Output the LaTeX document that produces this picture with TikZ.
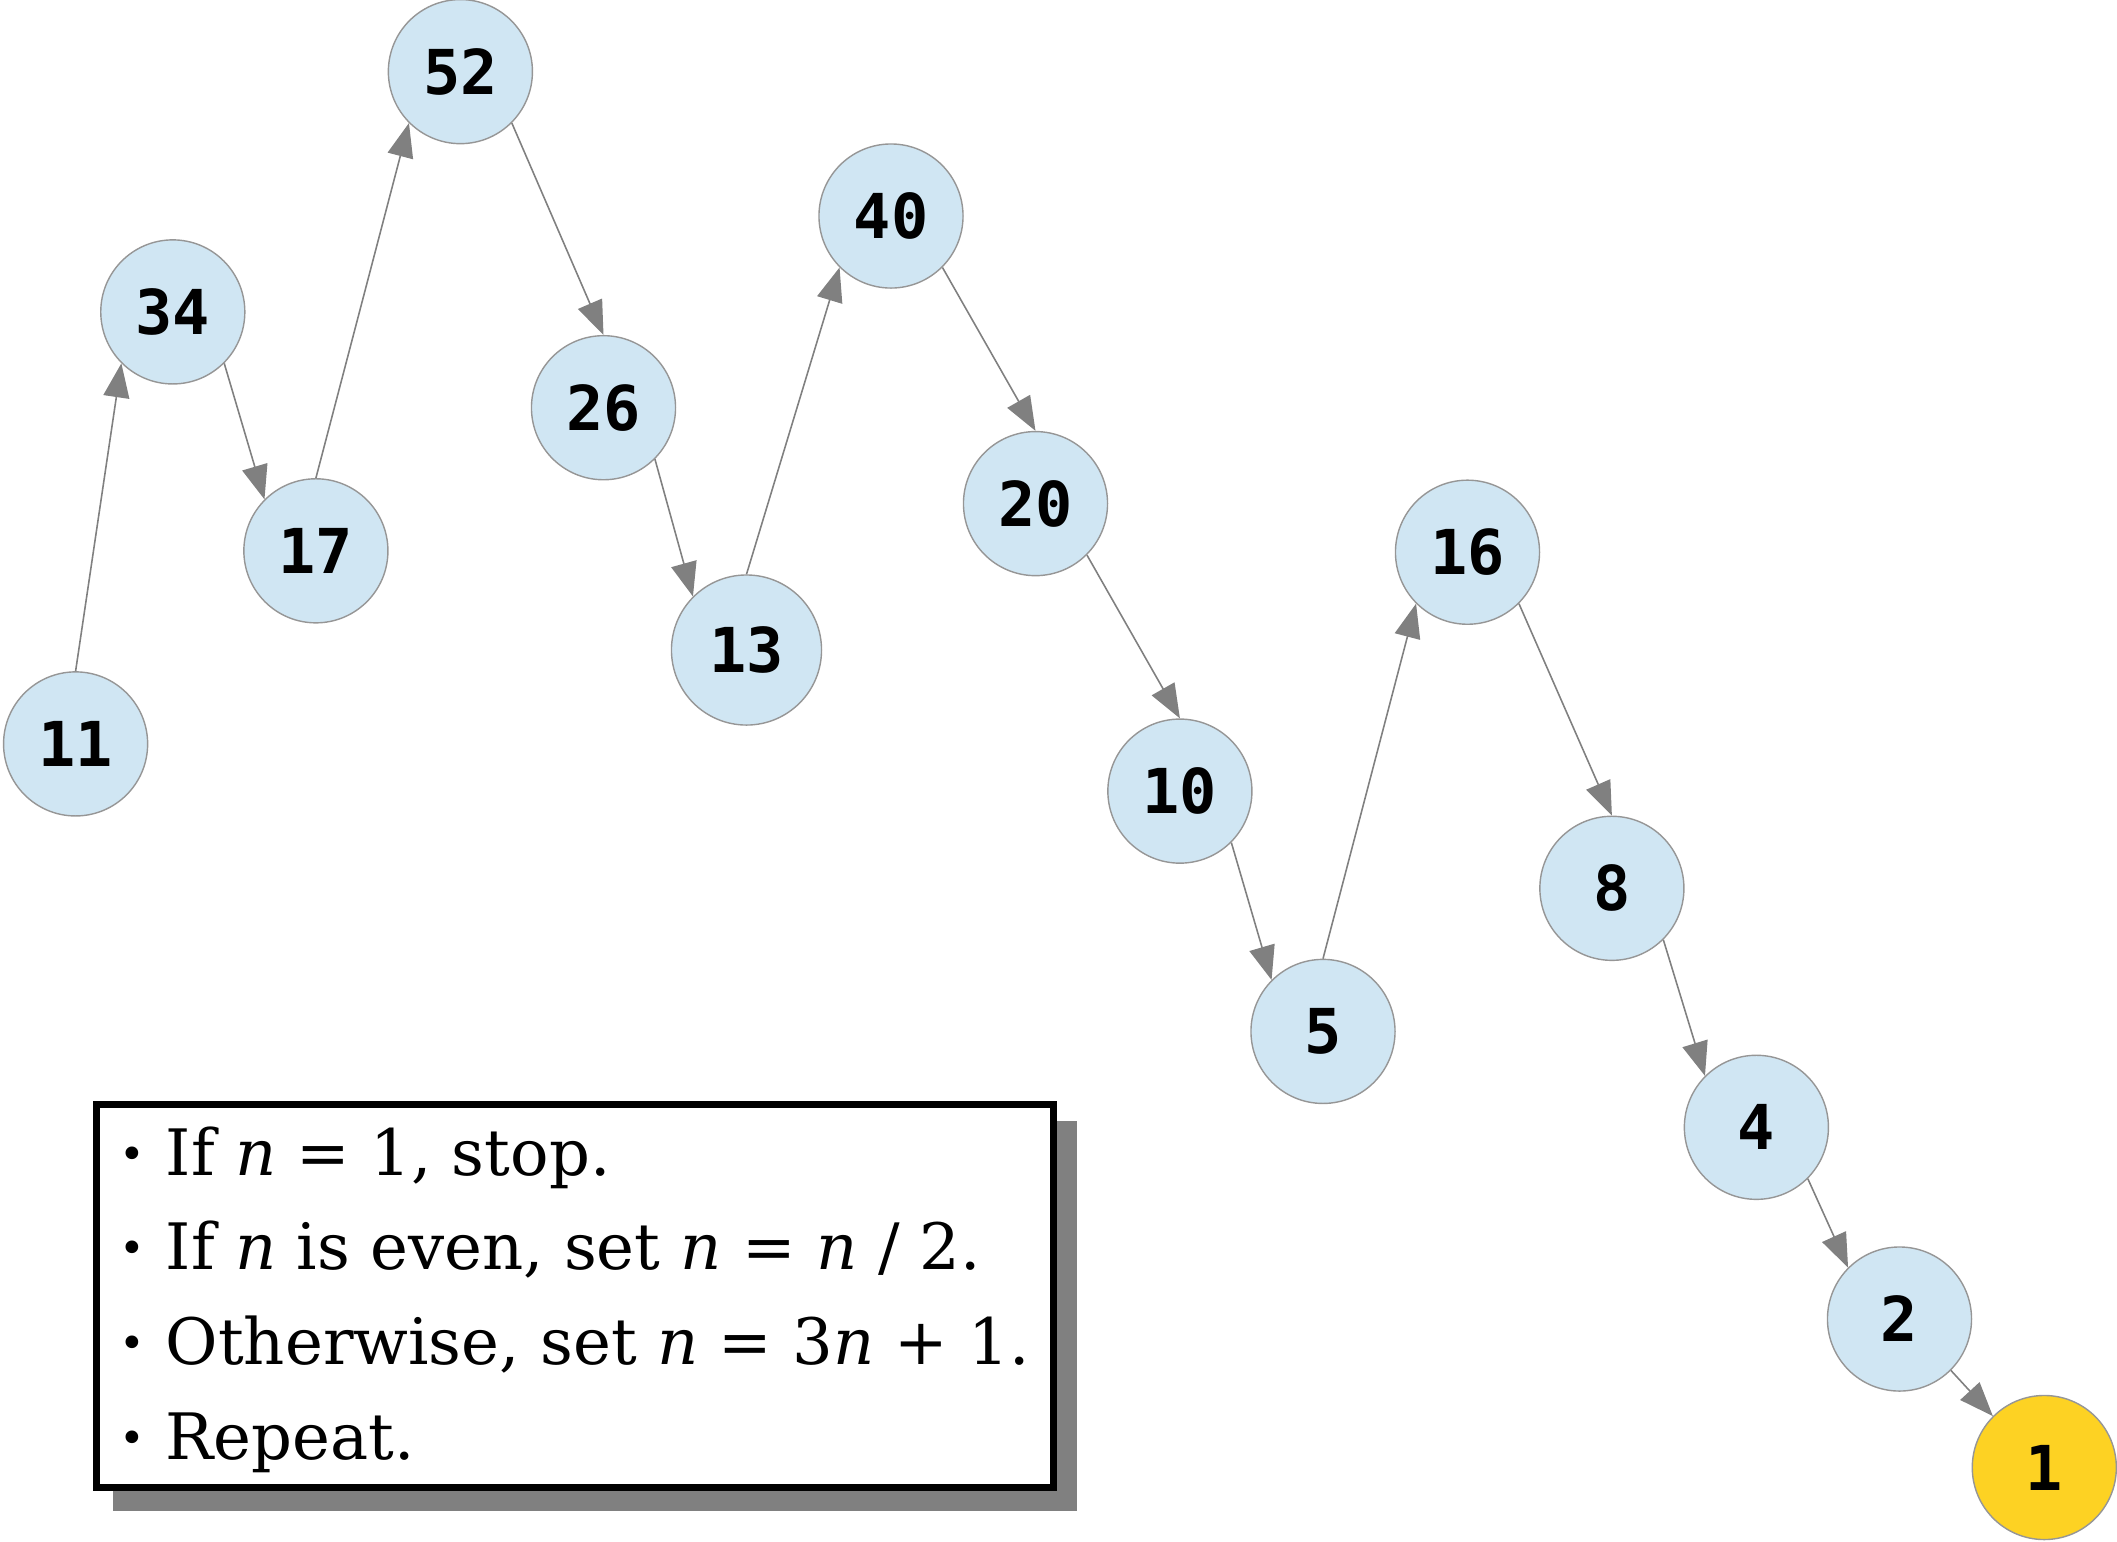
\documentclass[tikz,border=0pt]{standalone}
\usepackage{fontspec}
\setmainfont{DejaVu Serif}
\newfontfamily\numfont{DejaVu Sans Mono}
\usetikzlibrary{arrows.meta,shadows}
\definecolor{stepblue}{RGB}{208,230,243}
\definecolor{stepgold}{RGB}{253,210,35}
\definecolor{edgegray}{RGB}{128,128,128}
\definecolor{ringgray}{RGB}{150,150,150}
\newcommand\ruledot{\raisebox{1.7pt}{\fontsize{12.4}{12.4}\selectfont •}\ }

\begin{document}
\begin{tikzpicture}[x=0.01cm,y=-0.01cm,->,>={Triangle[length=0.34cm,width=0.26cm]},
                every edge/.style={draw=edgegray,line width=0.45pt},
                main node/.style={circle,draw=ringgray,line width=0.4pt,fill=stepblue,
                  minimum size=1.44cm,inner sep=0pt,font=\numfont\bfseries\fontsize{17.6}{20}\selectfont},
                rule box/.style={draw=black,line width=0.07cm,fill=white,inner sep=0pt,
                  minimum width=9.57cm,minimum height=3.82cm,
                  drop shadow={shadow xshift=0.2cm,shadow yshift=-0.2cm,fill=edgegray,draw=edgegray,
                    line width=0.07cm,opacity=1,rounded corners=2pt}},
                rule text/.style={anchor=north west,inner sep=0pt,align=left,
                  font=\fontsize{18.2}{26.9}\selectfont}]
  \useasboundingbox (0,0) rectangle (2117,1541);

  \node[main node] (11) at (75.6,743.9) {11};
  \node[main node] (34) at (172.8,311.9) {34};
  \node[main node] (17) at (315.9,550.8) {17};
  \node[main node] (52) at (460.4,71.6) {52};
  \node[main node] (26) at (603.5,407.7) {26};
  \node[main node,minimum size=1.5cm] (13) at (746.5,650) {13};
  \node[main node] (40) at (891,216) {40};
  \node[main node] (20) at (1035.5,503.6) {20};
  \node[main node] (10) at (1179.9,791.1) {10};
  \node[main node] (5) at (1323,1031.4) {5};
  \node[main node] (16) at (1467.5,552.2) {16};
  \node[main node] (8) at (1611.9,888.3) {8};
  \node[main node] (4) at (1756.4,1127.3) {4};
  \node[main node] (2) at (1899.5,1319) {2};
  \node[main node,fill=stepgold] (1) at (2044.3,1467.5) {1};

  \path
    (11.north) edge (34.south west)
    (34.south east) edge (17.north west)
    (17.north) edge (52.south west)
    (52.south east) edge (26.north)
    (26.south east) edge (13.north west)
    (13.north) edge (40.south west)
    (40.south east) edge (20.north)
    (20.south east) edge (10.north)
    (10.south east) edge (5.north west)
    (5.north) edge (16.south west)
    (16.south east) edge (8.north)
    (8.south east) edge (4.north west)
    (4.south east) edge (2.north west)
    (2.south east) edge (1.north west);

  % rules of the sequence
  \node[rule box] (rules) at (574.9,1296) {};
  \node[rule text] (steps) at (119,1126) {\ruledot If \textit{n} = 1, stop.\\
    \ruledot If \textit{n} is even, set \textit{n} = \textit{n} / 2.\\
    \ruledot Otherwise, set \textit{n} = 3\textit{n} + 1.\\
    \ruledot Repeat.};
\end{tikzpicture}
\end{document}
